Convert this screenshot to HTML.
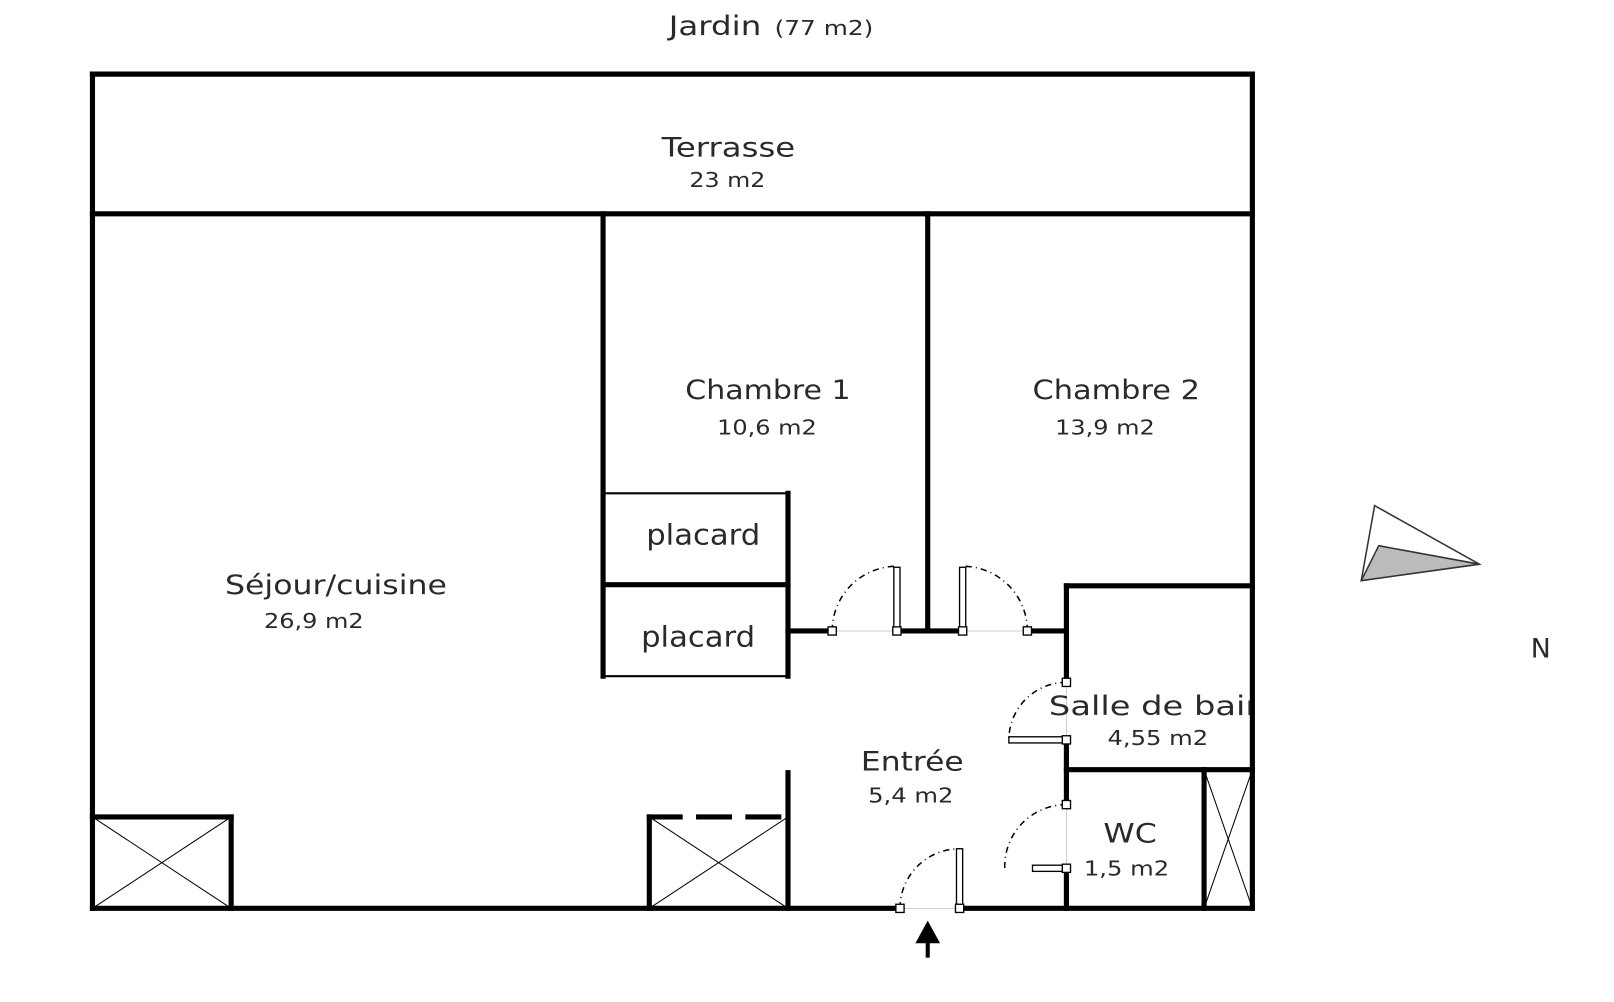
<!DOCTYPE html>
<html><head><meta charset="utf-8"><style>
html,body{margin:0;padding:0;background:#fff;}
svg{display:block;}
text{font-family:"DejaVu Sans","Liberation Sans",sans-serif;fill:#2a2a2a;}
</style></head><body>
<svg width="1614" height="1002" viewBox="0 0 1571 975" xmlns="http://www.w3.org/2000/svg">
<g stroke="#000" stroke-width="5" fill="none" stroke-linecap="square">
<line x1="90" y1="72" x2="1219" y2="72"/>
<line x1="90" y1="72" x2="90" y2="884"/>
<line x1="1219" y1="72" x2="1219" y2="884"/>
<line x1="90" y1="208" x2="1219" y2="208"/>
<line x1="587" y1="208" x2="587" y2="658"/>
<line x1="903" y1="208" x2="903" y2="614"/>
<line x1="767" y1="480" x2="767" y2="658"/>
<line x1="587" y1="569" x2="767" y2="569"/>
<line x1="767" y1="614" x2="810" y2="614"/>
<line x1="873" y1="614" x2="937" y2="614"/>
<line x1="1000" y1="614" x2="1038" y2="614"/>
<line x1="1038" y1="570" x2="1038" y2="664"/>
<line x1="1038" y1="570" x2="1219" y2="570"/>
<line x1="1038" y1="720" x2="1038" y2="783"/>
<line x1="1038" y1="749" x2="1219" y2="749"/>
<line x1="1038" y1="845" x2="1038" y2="884"/>
<line x1="1172" y1="749" x2="1172" y2="884"/>
<line x1="90" y1="884" x2="876" y2="884"/>
<line x1="934" y1="884" x2="1219" y2="884"/>
<line x1="90" y1="795" x2="225" y2="795"/>
<line x1="225" y1="795" x2="225" y2="884"/>
<line x1="767" y1="752" x2="767" y2="884"/>
<line x1="632" y1="795" x2="632" y2="884"/>
<line x1="632" y1="795" x2="767" y2="795" stroke-dasharray="30 18"/>
</g>
<g stroke="#000" stroke-width="2" fill="none">
<line x1="587" y1="480" x2="767" y2="480"/>
<line x1="587" y1="658" x2="767" y2="658"/>
<line x1="90" y1="795" x2="225" y2="884" stroke-width="1"/>
<line x1="225" y1="795" x2="90" y2="884" stroke-width="1"/>
<line x1="632" y1="795" x2="767" y2="884" stroke-width="1"/>
<line x1="767" y1="795" x2="632" y2="884" stroke-width="1"/>
<line x1="1172" y1="749" x2="1219" y2="884" stroke-width="1"/>
<line x1="1219" y1="749" x2="1172" y2="884" stroke-width="1"/>
</g>
<g stroke="#ccc" stroke-width="1">
<line x1="810" y1="614" x2="873" y2="614"/>
<line x1="937" y1="614" x2="1000" y2="614"/>
<line x1="1038" y1="664" x2="1038" y2="720"/>
<line x1="1038" y1="783" x2="1038" y2="845"/>
<line x1="876" y1="884" x2="934" y2="884"/>
</g>
<g stroke="#000" stroke-width="1.5" fill="none" stroke-dasharray="6 4 1 4">
<path d="M810 614 A63 63 0 0 1 873 551"/>
<path d="M1000 614 A63 63 0 0 0 937 551"/>
<path d="M1038 664 A56 56 0 0 0 982 720"/>
<path d="M1038 783 A60 60 0 0 0 978 845"/>
<path d="M876 884 A58 58 0 0 1 934 826"/>
</g>
<g stroke="#000" stroke-width="1.3" fill="#fff">
<rect x="870" y="552" width="6" height="62"/>
<rect x="934" y="552" width="6" height="62"/>
<rect x="982" y="717" width="56" height="6"/>
<rect x="1005" y="842" width="33" height="6"/>
<rect x="931" y="826" width="6" height="58"/>
<rect x="806" y="610" width="8" height="8"/>
<rect x="869" y="610" width="8" height="8"/>
<rect x="933" y="610" width="8" height="8"/>
<rect x="996" y="610" width="8" height="8"/>
<rect x="1034" y="660" width="8" height="8"/>
<rect x="1034" y="716" width="8" height="8"/>
<rect x="1034" y="779" width="8" height="8"/>
<rect x="1034" y="841" width="8" height="8"/>
<rect x="872" y="880" width="8" height="8"/>
<rect x="930" y="880" width="8" height="8"/>
</g>
<path d="M903 896 L915 918 L891 918 Z" fill="#000"/>
<line x1="903" y1="910" x2="903" y2="932" stroke="#000" stroke-width="4"/>
<path d="M1338 492 L1440 549 L1325 565 Z" fill="#fff" stroke="#333" stroke-width="1.5"/>
<path d="M1342 531 L1440 549 L1325 565 Z" fill="#bbb" stroke="#333" stroke-width="1.5"/>
<text x="1490" y="640" font-size="26" textLength="22">N</text>
<text x="651" y="34" font-size="26" fill="#444" textLength="90" lengthAdjust="spacingAndGlyphs">Jardin</text>
<text x="754" y="34" font-size="20" fill="#444" textLength="96" lengthAdjust="spacingAndGlyphs">(77 m2)</text>
<text x="644" y="152" font-size="26" textLength="130" lengthAdjust="spacingAndGlyphs">Terrasse</text>
<text x="671" y="182" font-size="20" textLength="74" lengthAdjust="spacingAndGlyphs">23 m2</text>
<text x="667" y="388" font-size="26" textLength="161" lengthAdjust="spacingAndGlyphs">Chambre 1</text>
<text x="698" y="423" font-size="20" textLength="97" lengthAdjust="spacingAndGlyphs">10,6 m2</text>
<text x="1005" y="388" font-size="26" textLength="163" lengthAdjust="spacingAndGlyphs">Chambre 2</text>
<text x="1027" y="423" font-size="20" textLength="97" lengthAdjust="spacingAndGlyphs">13,9 m2</text>
<text x="219" y="578" font-size="26" textLength="216" lengthAdjust="spacingAndGlyphs">Séjour/cuisine</text>
<text x="257" y="611" font-size="20" textLength="97" lengthAdjust="spacingAndGlyphs">26,9 m2</text>
<text x="629" y="530" font-size="28" textLength="111" lengthAdjust="spacingAndGlyphs">placard</text>
<text x="624" y="629" font-size="28" textLength="111" lengthAdjust="spacingAndGlyphs">placard</text>
<svg x="1000" y="650" width="217" height="50"><text x="21" y="46" font-size="26" textLength="212" lengthAdjust="spacingAndGlyphs">Salle de bain</text></svg>
<text x="1078" y="725" font-size="20" textLength="98" lengthAdjust="spacingAndGlyphs">4,55 m2</text>
<text x="838" y="750" font-size="26" textLength="100" lengthAdjust="spacingAndGlyphs">Entrée</text>
<text x="845" y="781" font-size="20" textLength="83" lengthAdjust="spacingAndGlyphs">5,4 m2</text>
<text x="1074" y="820" font-size="26" textLength="52" lengthAdjust="spacingAndGlyphs">WC</text>
<text x="1055" y="852" font-size="20" textLength="83" lengthAdjust="spacingAndGlyphs">1,5 m2</text>
</svg>
</body></html>
